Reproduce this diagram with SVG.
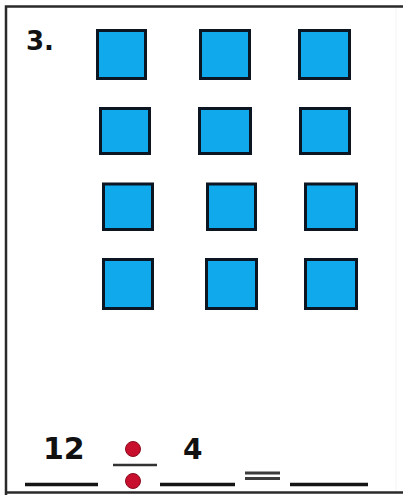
<svg xmlns="http://www.w3.org/2000/svg" width="403" height="495" viewBox="0 0 403 495">
<style>
.sq{fill:#10a9ec;stroke:#0b1622;stroke-width:3}
.num{font-family:"DejaVu Sans",Verdana,sans-serif;font-weight:bold;fill:#111}
.blank{stroke:#151515;stroke-width:3.5;stroke-linecap:butt}
.dot{fill:#c8102e;stroke:#8a0c1e;stroke-width:1}
.eq{stroke:#3c3c3c;stroke-width:3}
</style>
<rect width="403" height="495" fill="#ffffff"/>
<g id="frame" fill="none" stroke="#2a2a2a" stroke-width="2.5">
<path d="M6 495 V6.5 H403"/>
<path d="M6 492.5 H403"/>
<path d="M396 8 V491" stroke="#f3f3f3" stroke-width="1"/>
</g>
<text class="num" x="26" y="50" font-size="26">3.</text>
<g id="squares">
<rect class="sq" x="97.5" y="30.5" width="48" height="48"/>
<rect class="sq" x="200.5" y="30.5" width="49" height="48"/>
<rect class="sq" x="299.5" y="30.5" width="50" height="48"/>
<rect class="sq" x="100.5" y="108.5" width="49" height="45"/>
<rect class="sq" x="199.5" y="108.5" width="51" height="45"/>
<rect class="sq" x="300.5" y="108.5" width="49" height="45"/>
<rect class="sq" x="103.5" y="184" width="49" height="45.5"/>
<rect class="sq" x="207.5" y="184" width="48" height="45.5"/>
<rect class="sq" x="305.5" y="184" width="51" height="45.5"/>
<rect class="sq" x="103.5" y="259.5" width="49" height="49"/>
<rect class="sq" x="206.5" y="259.5" width="50" height="49"/>
<rect class="sq" x="305.5" y="259.5" width="51" height="49"/>
</g>
<g id="equation">
<text class="num" x="43" y="459" font-size="30">12</text>
<text class="num" x="183" y="459" font-size="28">4</text>
<line class="blank" x1="25" y1="484.5" x2="98" y2="484.5"/>
<line class="blank" x1="160" y1="484.5" x2="235" y2="484.5"/>
<line class="blank" x1="290" y1="484.5" x2="368" y2="484.5"/>
<circle class="dot" cx="133" cy="449" r="7.5"/>
<line x1="113" y1="465" x2="157" y2="465" stroke="#333" stroke-width="2.5"/>
<circle class="dot" cx="133" cy="481" r="7.5"/>
<line class="eq" x1="245" y1="473" x2="280" y2="473"/>
<line class="eq" x1="245" y1="478.5" x2="280" y2="478.5"/>
</g>
</svg>
